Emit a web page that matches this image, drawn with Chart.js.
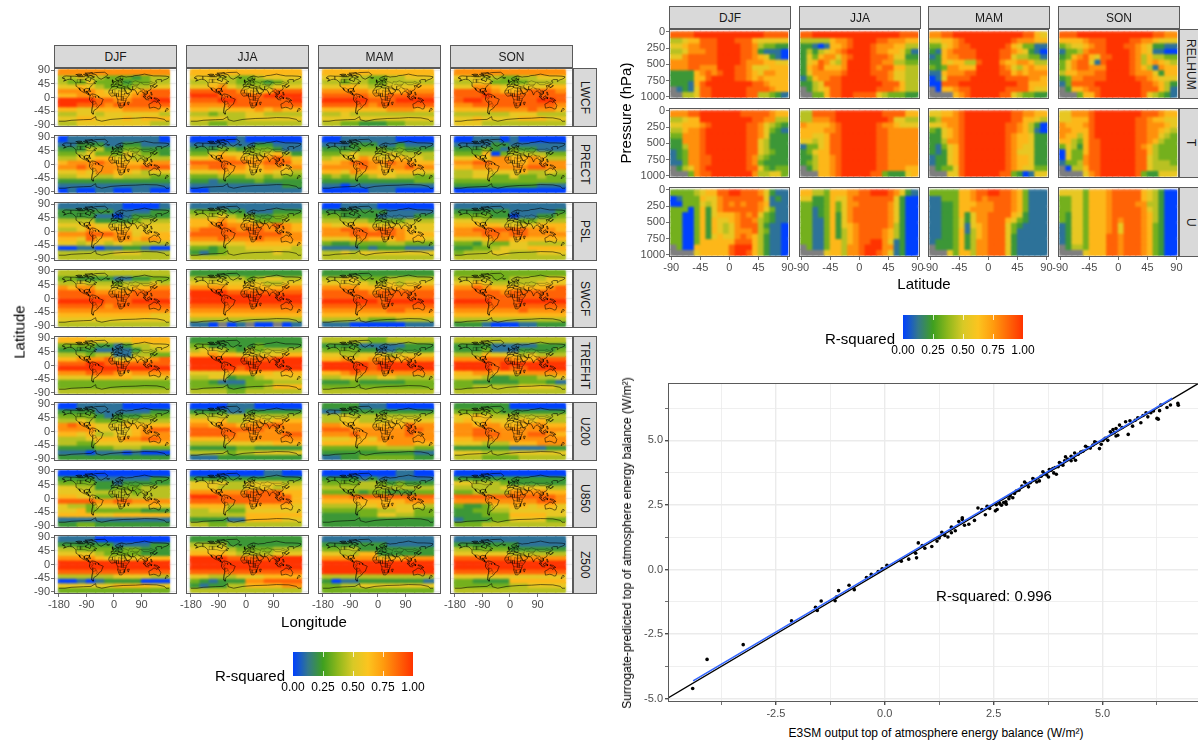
<!DOCTYPE html>
<html>
<head>
<meta charset="utf-8">
<script src="https://cdn.jsdelivr.net/npm/chart.js@4"></script>
<style>
html, body { margin: 0; padding: 0; background: #fff; }
body { position: relative; width: 1198px; height: 742px; overflow: hidden; font-family: "Liberation Sans", Arial, sans-serif; }
canvas { position: absolute; }
.strip { position: absolute; box-sizing: border-box; background: #d9d9d9; border: 1px solid #5a5a5a; color: #1a1a1a; font-size: 12px; display: flex; align-items: center; justify-content: center; }
.strip.side { writing-mode: vertical-rl; }
.lab { position: absolute; white-space: nowrap; color: #000; transform: translate(-50%, -50%); }
.bar { position: absolute; }
.bar i { position: absolute; height: 5px; width: 1px; background: rgba(255,255,255,.8); }
</style>
</head>
<body>
<script>
const seasons = ['DJF', 'JJA', 'MAM', 'SON'];
const mapVars = ['LWCF', 'PRECT', 'PSL', 'SWCF', 'TREFHT', 'U200', 'U850', 'Z500'];
const pressVars = ['RELHUM', 'T', 'U'];

// grid cells: each digit is R-squared in ninths, x is no data
const mapLons = [-165, -135, -105, -75, -45, -15, 15, 45, 75, 105, 135, 165];
const mapLatEdges = [90, 75, 60, 45, 30, 15, 0, -15, -30, -45, -60, -75, -90];
const pressLats = [-85.5, -76.5, -67.5, -58.5, -49.5, -40.5, -31.5, -22.5, -13.5, -4.5, 4.5, 13.5, 22.5, 31.5, 40.5, 49.5, 58.5, 67.5, 76.5, 85.5];
const pressEdges = [0, 83, 167, 250, 333, 417, 500, 583, 667, 750, 833, 917, 1000];

const LWCF_DJF = ['777777777777','445443332344','433533323344','556543334455','777765556788','667766667888','999988778899','998887888888','665566677776','445545555554','556655565666','445555555544'];
const LWCF_JJA = ['666666666666','555443345555','445543332344','556754444555','888887656888','999888889999','888998888889','777788888888','665566676766','443444554444','555544555555','443344444444'];
const LWCF_MAM = ['666666666666','554443344555','443443344444','556654455566','777776666777','888887788888','999998889999','888887888888','666666677766','445444444444','555555555555','443322233444'];
const LWCF_SON = ['777777777777','555443344555','445533334444','557765555566','888876678887','888988888888','899888888998','778888888887','666677778776','444444555444','556555566655','555444444444'];
const PRECT_DJF = ['011111111110','112221122111','222442233222','334533354332','445566554444','677787666677','778777777888','556577665455','445544544433','222222222222','111111111111','010011001100'];
const PRECT_JJA = ['000001000000','111111122111','222332333211','335655445642','556776667875','888888778886','778877667767','555666556554','333433443433','221222232222','111111111122','001111111111'];
const PRECT_MAM = ['001111110000','111222112111','222233323222','334544454444','455576556554','667887787766','777787677877','665766656655','343434554433','222222222233','110111111111','000001110000'];
const PRECT_SON = ['001110100000','111122111111','222321322111','333603444433','556577667644','778877667777','667777778877','445555564454','445533533433','333333333333','222222222111','000000000000'];
const PSL_DJF = ['111111100001','222222111122','222211012222','444422223444','555655555555','445766665555','777888775666','665866776776','554554554444','001101122100','444444555444','444444444444'];
const PSL_JJA = ['111111111111','333322111222','444543322333','666765533344','667877777876','788887887776','888888888877','777877787777','555555666666','332344555554','212344444544','444444444444'];
const PSL_MAM = ['001111000000','222222211111','332222111122','444443333444','655665555555','778887887655','777888887666','555676667665','322333344333','111121222111','445455555555','444444444444'];
const PSL_SON = ['111111111111','222222111112','333322011223','555444433444','666665555666','778888887776','777887887777','555677666666','332433554444','223345556666','344455444555','444444444444'];
const SWCF_DJF = ['444444444444','332222112233','445444344454','767755556677','888877778888','888888888888','999998889999','888887888888','777777777777','666666666655','555555555555','444444444444'];
const SWCF_JJA = ['222222222222','444444345544','555555554455','777766666677','999988888888','999999999999','999999999999','888888888888','777777777777','666666666666','444444444444','110x01x00x01'];
const SWCF_MAM = ['222222222222','445533344444','555554454555','777766666677','888887888888','888888888888','999999899999','888888888888','777777788777','666666666666','444443334444','111000000111'];
const SWCF_SON = ['333333333333','444433444455','556544444555','778766666678','888887888888','888888888888','999988899999','888888888888','777777787777','666666666666','444444444444','222100011222'];
const TREFHT_DJF = ['666555556666','333322124455','222211112445','444344114433','667778556678','888998888888','999999999999','777888767777','555566665555','333333333333','333333333333','444444444444'];
const TREFHT_JJA = ['222222222222','332222232222','455432434444','667665555566','999999888999','999999999999','999998999999','555566666566','445523345555','332111333444','333322334666','444433444444'];
const TREFHT_MAM = ['444443344444','222211111222','333322112222','554455545555','667667776777','999998999999','999998999999','667877777777','445544554444','222322222333','333333333333','444444444444'];
const TREFHT_SON = ['444444444444','222211111222','222311122223','444655545444','777888766888','999989999999','999989889999','667766677777','555422333445','332222233321','334444455554','444444444444'];
const U200_DJF = ['001111100000','222211111122','333321222333','445433344444','787655566666','777755556788','665644556777','444566677887','443355555566','222233444333','111011101000','222222222222'];
const U200_JJA = ['000011100000','222211222222','444444444444','665644565666','776776778877','888888887777','888887777788','666677777777','444455555666','222223322222','444434455555','111222222222'];
const U200_MAM = ['222211100000','112222222222','445444444444','445544455555','776666666877','888777777887','777877777877','555665777777','666666677766','333333444433','222222222211','112233333322'];
const U200_SON = ['222222000000','333332222222','556544444444','565655565644','776776667766','778877777777','778887778876','667777777777','555444666777','222222111122','555444555555','444333344444'];
const U850_DJF = ['000000000000','222211111122','333322122222','554422333444','555444443444','665533444444','888877887777','544355555565','556333333222','666655666666','111111111111','223322222222'];
const U850_JJA = ['000000001100','222222222222','555544555544','555444555455','777777888866','999888888886','888888888886','666644666665','445533555555','444444666666','222211666655','443344444444'];
const U850_MAM = ['000000001100','222212111111','333344323222','444444444444','333323322233','777888888888','666666666777','444455665554','333333445533','222233554433','222222222222','222222222222'];
const U850_SON = ['000000000000','222222222222','554443222222','444445555544','334444777766','888888888887','777777777887','322355665665','223344555555','222333666655','122233555533','333444444444'];
const Z500_DJF = ['111100000000','222222111122','443333233222','555543333222','777765555666','999999999999','999999999999','888888888888','444444555544','001012222000','555555666655','333333333333'];
const Z500_JJA = ['222222222222','444422222222','555543333444','666654444555','999988888999','999999999999','999999999999','888888888888','554445556666','321222778888','212244666677','444444444444'];
const Z500_MAM = ['111111111111','222222211111','334422222222','554466222222','777777666777','999999999999','999999999999','999999999999','444444444444','201122222221','334455555555','333333333333'];
const Z500_SON = ['111111111111','222222211111','443333222222','555555444444','888888777777','999999999999','999999999999','888888888888','555555555555','332222666666','333333445555','444444444444'];

const RELHUM_DJF = ['88889999999999998888','44566888999888655555','55677888999988743322','44577788999988721110','55788888999988765210','77788888999987776655','77788777999887555666','22226787899887657766','22226689999887676666','22216899999999887666','x1215889999998888766','xx445889999998844321'];
const RELHUM_JJA = ['88999999999999999888','44444677899998877766','22101667899987776644','24245678999987766531','25367757899988875522','25687547999988774433','26786667999987886644','25777778999988875544','13677889999998875544','22458889999999888644','x2456889999998887644','xx336889988885433322'];
const RELHUM_MAM = ['77889999999999998865','55667899999999877766','33567889999998653311','21678888999988765210','12677888999988544331','22656644899976677644','32377666999987546766','11677788999988676777','01588889999998888776','00888999999999988666','x0667889999998888655','xxxx6789999988543322'];
const RELHUM_SON = ['88899999999999998877','66667888999988776555','34556788999887652211','13347888999987651100','23678658899987464433','35788518999987467654','35788777999987641766','46677788999987775266','23778888999998876555','13888899999999887642','x2667889999999888641','xxx36689999999854321'];
const T_DJF = ['77788999999988888766','44566999999999887744','55666789999998875432','44677899999998875321','33777899999998875222','22777899999998854222','22477899999998854222','12377899999998854322','12377889999998743222','11377889999998732222','x2457899999998853233','xxx37889999999744553'];
const T_JJA = ['44888899999999888866','44777899999999985544','76666789999998776555','66667789999998877777','66556889999998877777','55456889999998877777','13356889999998877777','23566889999998877777','22466789999998877777','23466789999998877777','x2466789999998877766','xxx66789999988322256'];
const T_MAM = ['55667899999999887766','34777899999999886654','55677899999998876420','32567899999998876410','22567899999998766522','22477899999998766522','21356899999998765522','21256899999998755522','12256899999998766522','12256899999998766522','x2335899999998765533','xxx55899999988320155'];
const T_SON = ['55777899999999888766','55666899999998876655','76667899999998877765','77666899999998877654','76646899999998877543','66436889999998876433','35426889999998764333','05336889999998864333','05337889999998854333','13347889999998854443','x0446889999998854444','xxxx5789999998322555'];
const U_DJF = ['33334566889988875211','01333655788888885121','00333545787878876111','33303625788888875311','33003625666787853211','33003626556788743211','33003626545788842110','33003626545777843110','33003625655787642110','33003666666888642110','x3006666668999642110','xxxx5666668998642110'];
const U_JJA = ['66443666778899987521','55223655788888885200','33223635778888875200','33123635788888875200','33123625788888875200','33113625788888875200','33113625678888874200','33113624678888764200','33113624678888764200','33113664678899751200','x3113664778999771200','xxxx5664778998751200'];
const U_MAM = ['33333667889988763111','11333667878888763111','11223666777888763111','11223667777888763111','11223625778888652111','11223525778886532111','11223515678885321111','11223614678885311111','11223624678885211111','12223624778885211111','x2223624778885211111','xxx53664778885211111'];
const U_SON = ['55553666788888654200','33553666788888654200','33553666788887744200','33553666788888754200','32553666788888764200','32553666787888764200','12553666785888763200','12553666785888763200','12553666887888763200','12553666887888763200','x2443666887888763200','xxxx5666887888763200'];

const mapGrids = {
    LWCF: [LWCF_DJF, LWCF_JJA, LWCF_MAM, LWCF_SON], PRECT: [PRECT_DJF, PRECT_JJA, PRECT_MAM, PRECT_SON],
    PSL: [PSL_DJF, PSL_JJA, PSL_MAM, PSL_SON], SWCF: [SWCF_DJF, SWCF_JJA, SWCF_MAM, SWCF_SON],
    TREFHT: [TREFHT_DJF, TREFHT_JJA, TREFHT_MAM, TREFHT_SON], U200: [U200_DJF, U200_JJA, U200_MAM, U200_SON],
    U850: [U850_DJF, U850_JJA, U850_MAM, U850_SON], Z500: [Z500_DJF, Z500_JJA, Z500_MAM, Z500_SON]
};
const pressGrids = {
    RELHUM: [RELHUM_DJF, RELHUM_JJA, RELHUM_MAM, RELHUM_SON], T: [T_DJF, T_JJA, T_MAM, T_SON], U: [U_DJF, U_JJA, U_MAM, U_SON]
};

// rough outlines, lon,lat pairs
const coastlines = [
    [-168,66,-162,70,-156,71,-140,70,-128,70,-115,68,-95,68,-94,72,-85,69,-82,67,-94,61,-92,57,-82,55,-80,51,-78,55,-77,62,-70,61,-65,59,-60,54,-56,52,-66,50,-60,46,-67,45,-70,42,-74,40,-76,35,-81,31,-80,25,-83,29,-90,30,-97,27,-97,20,-91,18,-90,21,-87,21,-88,16,-83,15,-83,10,-77,8,-80,8,-85,10,-92,15,-97,16,-105,20,-110,24,-113,31,-110,23,-117,32,-122,37,-124,43,-124,48,-130,54,-135,58,-145,60,-152,59,-160,55,-165,54,-158,58,-165,62,-168,66],
    [-77,8,-72,12,-62,10,-52,5,-50,0,-44,-2,-35,-6,-39,-15,-41,-22,-48,-26,-53,-34,-58,-38,-65,-42,-68,-50,-68,-55,-74,-50,-73,-40,-71,-30,-70,-18,-76,-14,-81,-5,-80,0,-77,8],
    [-6,35,10,37,11,33,20,31,25,32,32,31,35,24,37,18,43,12,51,12,47,4,40,-3,39,-10,35,-20,33,-26,26,-34,18,-34,12,-17,13,-8,9,0,9,4,4,6,-4,5,-8,4,-13,9,-17,15,-16,22,-10,30,-6,35],
    [-9,37,-9,43,-1,44,-4,48,4,52,8,54,9,57,12,54,20,55,24,59,30,60,22,60,21,65,18,60,16,56,12,56,5,60,5,62,14,68,25,71,40,67,44,68,60,69,68,72,80,73,100,77,113,74,130,71,150,71,170,70,180,68,178,64,170,60,163,58,155,52,155,59,142,59,135,54,141,50,135,44,127,40,129,35,126,35,125,39,118,39,122,31,119,25,110,21,108,16,109,12,105,9,100,13,103,2,98,8,98,16,94,16,90,22,85,20,80,15,77,8,73,18,72,21,67,25,57,26,52,28,48,30,56,25,59,22,52,16,43,12,39,21,35,28,34,32,36,36,28,37,26,40,23,38,20,40,13,45,18,40,15,38,9,44,3,43,0,38,-5,36,-9,37],
    [114,-22,122,-18,130,-12,136,-12,140,-17,143,-11,153,-26,150,-37,144,-38,138,-34,130,-32,116,-35,114,-22],
    [-73,78,-60,82,-30,83,-20,75,-25,69,-42,60,-52,65,-58,75,-73,78],
    [-180,-78,-160,-78,-140,-75,-100,-73,-75,-72,-60,-63,-58,-73,-40,-78,-10,-72,30,-69,70,-68,100,-66,140,-67,165,-72,170,-78,180,-78],
    [-5,50,1,51,-2,56,-5,58,-5,50], [130,32,136,34,141,37,141,41,136,36,130,32], [44,-16,50,-15,47,-25,44,-20,44,-16],
    [95,5,104,-2,105,-6,100,-2,95,5], [105,-7,115,-8], [109,1,117,6,118,1,115,-4,110,-2,109,1], [131,-1,141,-3,150,-10,141,-9,134,-4,131,-1],
    [120,18,122,18,125,8,122,8,120,18], [120,1,124,0,122,-5,120,1], [173,-35,178,-38,170,-46,167,-45,173,-35], [-24,65,-14,65,-18,63,-24,65],
    [-120,72,-105,73,-100,70,-115,69,-120,72], [-90,74,-75,72,-65,66,-75,64,-90,74], [-95,80,-70,82,-85,77,-95,80], [-84,22,-75,20,-78,22,-84,22],
    [-125,75,-115,77,-105,76,-110,74,-125,75], [-100,76,-90,76,-85,74,-95,73,-100,76], [-80,74,-70,71,-62,67], [-170,64,-160,63]
];
const borders = [
    [-123,49,-95,49,-83,45,-75,45,-67,47], [-117,32,-106,31,-97,26], [-141,70,-141,60],
    [27,56,32,52,40,50,48,46,50,52,60,51,70,55,85,50,98,50,115,50,120,53,130,48,135,48,131,43],
    [74,38,80,42,85,50], [74,38,78,32,88,28,97,28,100,22,108,22], [88,49,98,42,112,42,120,47], [53,42,60,44,68,41,80,42],
    [44,38,48,38], [44,38,46,30], [61,37,61,25], [61,37,74,38], [62,25,70,28,74,34], [35,29,46,29,48,30], [46,29,55,22,59,22],
    [25,32,25,20,37,22], [25,20,24,10,35,10], [-17,21,-5,25,10,30], [-5,25,-5,15,15,13,15,23,25,20], [15,13,15,3,9,3], [15,3,30,4,35,5,42,4],
    [24,10,24,-10], [12,-6,30,-10,40,-10], [12,-17,25,-18,33,-15], [20,-18,20,-28,32,-26], [-12,12,3,12,3,6], [42,12,35,15,35,10], [8,13,8,4],
    [-72,11,-68,2,-70,-4,-74,-8,-70,-11,-69,-18], [-68,2,-60,5,-60,-1], [-70,-11,-60,-14,-58,-20,-54,-25,-58,-30,-53,-34],
    [-69,-18,-68,-23,-70,-35,-72,-50], [-68,-23,-58,-20], [-80,-3,-75,0,-70,-4],
    [2,43,8,49,6,51,4,52], [8,49,14,50,24,50,30,46,28,42,22,41,14,46,8,46], [14,54,14,50], [24,54,24,50],
    [12,56,14,65,20,69,28,70], [24,60,30,62,29,69], [-2,43,-9,42], [4,43,8,46], [20,54,28,56,27,60], [22,48,30,52], [22,41,28,48],
    [36,36,44,38,48,42], [36,33,46,33,48,30], [100,22,102,14,105,9], [108,22,102,18], [92,22,97,28], [80,30,88,27], [120,47,130,43], [126,38,130,42],
    [-13,15,-5,15], [3,12,3,25], [9,3,9,13], [30,4,30,-10], [40,-3,30,-3], [33,-15,35,-26], [18,-28,26,-28],
    [-105,49,-105,60], [-120,49,-120,60], [-110,60,-110,49], [-120,60,-95,60], [-90,16,-92,18], [-88,14,-84,14]
];

// scatter panel
const e3smX = [-4.41,-4.08,-3.25,-2.14,-1.59,-1.55,-1.46,-1.14,-1.11,-1.06,-.82,-.70,-.42,-.31,-.15,-.06,.05,.38,.55,.71,.73,.77,.86,.92,1.08,1.20,1.25,1.31,1.38,1.45,1.53,1.53,1.62,1.70,1.78,1.78,1.83,1.93,2.06,2.14,2.23,2.31,2.35,2.41,2.54,2.58,2.56,2.64,2.68,2.73,2.78,2.79,2.85,2.88,2.94,2.98,3.02,3.08,3.15,3.21,3.25,3.30,3.34,3.40,3.44,3.49,3.55,3.59,3.63,3.67,3.72,3.76,3.78,3.82,3.86,3.88,3.94,3.91,3.98,4.01,4.05,4.09,4.15,4.13,4.20,4.28,4.28,4.33,4.38,4.36,4.44,4.50,4.55,4.61,4.66,4.72,4.78,4.82,4.85,4.93,4.97,5.01,5.06,5.12,5.18,5.21,5.24,5.31,5.35,5.39,5.31,5.27,5.45,5.53,5.59,5.63,5.69,5.75,5.81,5.88,5.93,6.0,6.04,6.11,6.17,6.25,6.28,6.34,6.31,6.48,6.56,6.73,6.74];
const surrogateY = [-4.61,-3.48,-2.91,-1.99,-1.46,-1.59,-1.22,-1.21,-1.07,-.82,-.61,-.78,-.31,-.19,-.08,.03,.16,.32,.40,.63,.45,1.03,.93,.82,.89,1.10,1.22,1.44,1.32,1.26,1.64,1.42,1.50,1.86,2.0,1.94,1.71,1.75,1.90,2.38,2.32,2.12,2.45,2.36,2.27,2.32,2.51,2.55,2.49,2.59,2.62,2.53,2.74,2.85,2.78,2.94,3.04,3.07,3.23,3.39,3.32,3.20,3.36,3.52,3.48,3.39,3.43,3.61,3.78,3.71,3.66,3.58,3.87,3.84,3.91,3.74,3.69,3.95,3.98,4.14,4.10,4.04,4.36,4.21,4.28,4.38,4.21,4.33,4.23,4.51,4.46,4.55,4.58,4.77,4.72,4.70,4.82,4.94,4.91,4.68,4.85,5.0,5.08,5.0,5.33,5.26,5.42,5.17,5.2,5.59,5.46,5.30,5.50,5.72,5.23,5.76,5.55,5.78,5.87,5.68,5.96,6.07,5.91,6.07,6.14,5.85,5.82,6.37,6.15,6.27,6.37,6.43,6.36];
const oneToOneX = [-5.1, 7.5];
const oneToOneY = [-5.1, 7.5];
const fitX = [-4.4, 6.6];
const fitY = [-4.31, 6.63];
const xTickVals = [-3.75, -2.5, -1.25, 0, 1.25, 2.5, 3.75, 5, 6.25];
const yTickVals = [-5, -3.75, -2.5, -1.25, 0, 1.25, 2.5, 3.75, 5, 6.25];

const legendVals = [0, 0.125, 0.25, 0.375, 0.5, 0.625, 0.75, 1];
const legendCols = ['#0040ff', '#33788c', '#3fa01f', '#8fb81c', '#d8c926', '#fcc41f', '#ff9c0e', '#ff3300'];
const legendLabels = ['0.00', '0.25', '0.50', '0.75', '1.00'];

Chart.defaults.font.family = '"Liberation Sans", Arial, sans-serif';
Chart.defaults.animation = false;

function rgb(hex) { return [1, 3, 5].map(i => parseInt(hex.substr(i, 2), 16)); }

function rampColor(v) {
    let i = 0;
    while (i < legendVals.length - 2 && v > legendVals[i + 1]) i++;
    const t = (v - legendVals[i]) / (legendVals[i + 1] - legendVals[i]);
    const a = rgb(legendCols[i]), b = rgb(legendCols[i + 1]);
    return 'rgb(' + a.map((c, k) => Math.round(c + (b[k] - c) * t)).join(',') + ')';
}

function cellColor(ch) { return ch === 'x' ? '#7f7f7f' : rampColor(Number(ch) / 9); }

function outline(lines) {
    const pts = [];
    lines.forEach(function (line) {
        for (let i = 0; i < line.length; i += 2) pts.push({ x: line[i], y: line[i + 1] });
        pts.push({ x: line[0], y: NaN });
    });
    return pts;
}

function label(text, x, y, size, rotate) {
    const d = document.createElement('div');
    d.className = 'lab';
    d.textContent = text;
    d.style.left = x + 'px';
    d.style.top = y + 'px';
    d.style.fontSize = size + 'px';
    if (rotate) d.style.transform = 'translate(-50%, -50%) rotate(-90deg)';
    document.body.appendChild(d);
}

function strip(text, x, y, w, h, side) {
    const d = document.createElement('div');
    d.className = side ? 'strip side' : 'strip';
    d.textContent = text;
    d.style.cssText = `left:${x}px;top:${y}px;width:${w}px;height:${h}px`;
    document.body.appendChild(d);
}

function colorbar(x, y) {
    const d = document.createElement('div');
    d.className = 'bar';
    const stops = legendVals.map((v, i) => legendCols[i] + ' ' + (v * 100) + '%').join(',');
    d.style.cssText = `left:${x}px;top:${y}px;width:120px;height:24px;background:linear-gradient(to right,${stops})`;
    [30, 60, 90].forEach(function (p) {
        ['top', 'bottom'].forEach(function (side) {
            const t = document.createElement('i');
            t.style.left = p + 'px';
            t.style[side] = '0';
            d.appendChild(t);
        });
    });
    document.body.appendChild(d);
    legendLabels.forEach((t, i) => label(t, x + i * 30, y + 35, 12));
    label('R-squared', x - 43, y + 23, 15);
}

// frame on top of everything, and soften the cells the way the raster looks
const framePlugin = {
    id: 'frame',
    afterDatasetDraw(chart, args) {
        if (chart.$lastCell !== args.index) return;
        const a = chart.chartArea, ctx = chart.ctx;
        ctx.save();
        ctx.beginPath();
        ctx.rect(a.left, a.top, a.width, a.height);
        ctx.clip();
        ctx.filter = 'blur(1.1px)';
        ctx.drawImage(chart.canvas, 0, 0);
        ctx.restore();
    },
    afterDraw(chart) {
        const a = chart.chartArea, ctx = chart.ctx;
        ctx.save();
        ctx.strokeStyle = '#5a5a5a';
        ctx.lineWidth = 1;
        ctx.strokeRect(a.left + .5, a.top + .5, a.width - 1, a.height - 1);
        ctx.restore();
    }
};

function axis(min, max, ticks, showLabels, size, isX, reverse) {
    return {
        type: 'linear', min: min, max: max, reverse: !!reverse, offset: false,
        afterBuildTicks(s) { s.ticks = ticks.map(v => ({ value: v })); },
        afterFit(s) {
            if (isX) s.height = showLabels ? size : 0; else s.width = showLabels ? size : 0;
            s.paddingLeft = s.paddingRight = s.paddingTop = s.paddingBottom = 0;
        },
        border: { display: false },
        grid: { offset: false, color: '#ebebeb', lineWidth: 0.8, drawTicks: showLabels, tickLength: 3, tickColor: '#4d4d4d' },
        ticks: {
            display: showLabels, color: '#4d4d4d', font: { size: 11 }, padding: 1,
            autoSkip: false, maxRotation: 0, minRotation: 0,
            callback: v => String(v)
        }
    };
}

function heatPanel(box, grid, centers, edges, xAxis, yAxis, lines) {
    const cv = document.createElement('canvas');
    const gl = 34, gr = 14, gb = 17, gt = 6;
    cv.width = box.w + gl + gr;
    cv.height = box.h + gb + gt;
    cv.style.left = (box.x - gl) + 'px';
    cv.style.top = (box.y - gt) + 'px';
    document.body.appendChild(cv);

    const sets = [];
    lines.forEach(function (l) {
        sets.push({ type: 'scatter', data: l.pts, showLine: true, spanGaps: false, borderColor: l.col, borderWidth: l.w, pointRadius: 0, fill: false });
    });
    grid.forEach(function (row, r) {
        const cells = row.split('');
        sets.push({
            type: 'bar',
            data: cells.map((c, i) => ({ x: centers[i], y: [edges[r], edges[r + 1]] })),
            backgroundColor: cells.map(cellColor),
            borderWidth: 0, inflateAmount: 0.6, grouped: false, barPercentage: 1, categoryPercentage: 1
        });
    });
    const chart = new Chart(cv, {
        data: { datasets: sets },
        options: {
            responsive: false, events: [],
            layout: { padding: { left: box.yLabels ? 0 : gl, right: gr, top: gt, bottom: box.xLabels ? 0 : gb } },
            plugins: { legend: { display: false }, tooltip: { enabled: false } },
            scales: { x: xAxis, y: yAxis }
        },
        plugins: [{
            id: 'cellmark',
            beforeDraw(c) { c.$lastCell = lines.length; }
        }, framePlugin]
    });
    return chart;
}

// --- left block: maps
const mapColX = [54, 186, 318, 450];
const mapRowY = [68, 135, 202, 269, 336, 402, 469, 535];
const mapW = 123, mapH = 59;
const coastPts = outline(coastlines), borderPts = outline(borders);

mapVars.forEach(function (v, r) {
    mapColX.forEach(function (x, c) {
        const yLabels = c === 0, xLabels = r === mapVars.length - 1;
        heatPanel({ x: x, y: mapRowY[r], w: mapW, h: mapH, yLabels: yLabels, xLabels: xLabels },
            mapGrids[v][c], mapLons, mapLatEdges,
            axis(-196, 206, [-180, -90, 0, 90], xLabels, 17, true),
            axis(-97, 97, [-90, -45, 0, 45, 90], yLabels, 34, false),
            [{ pts: coastPts, col: '#000', w: 0.55 }, { pts: borderPts, col: 'rgba(0,0,0,.7)', w: 0.4 }]);
    });
    strip(v, 573, mapRowY[r], 24, mapH, true);
});
mapColX.forEach((x, c) => strip(seasons[c], x, 45, mapW, 23));
label('Latitude', 19, 332, 15, true);
label('Longitude', 314, 621, 15);
colorbar(293, 652);

// --- right block: pressure sections
const pressColX = [669, 799, 928, 1058];
const pressRowY = [29, 108, 187];
const pressW = 121, pressH = 70;

pressVars.forEach(function (v, r) {
    pressColX.forEach(function (x, c) {
        const yLabels = c === 0, xLabels = r === pressVars.length - 1;
        heatPanel({ x: x, y: pressRowY[r], w: pressW, h: pressH, yLabels: yLabels, xLabels: xLabels },
            pressGrids[v][c], pressLats, pressEdges,
            axis(-93.5, 94, [-90, -45, 0, 45, 90], xLabels, 17, true),
            axis(-46, 1035, [0, 250, 500, 750, 1000], yLabels, 34, false, true),
            []);
    });
    strip(v, 1179, pressRowY[r], 24, pressH, true);
});
pressColX.forEach((x, c) => strip(seasons[c], x, 6, pressW + 1, 23));
label('Pressure (hPa)', 625, 113, 15, true);
label('Latitude', 924, 283, 15);
colorbar(903, 315);

// --- scatter
const sc = document.createElement('canvas');
sc.width = 578;
sc.height = 345;
sc.style.left = '630px';
sc.style.top = '378px';
document.body.appendChild(sc);

function scAxis(min, max, ticks, size, isX) {
    return {
        type: 'linear', min: min, max: max,
        afterBuildTicks(s) { s.ticks = ticks.map(v => ({ value: v })); },
        afterFit(s) {
            if (isX) s.height = size; else s.width = size;
            s.paddingLeft = s.paddingRight = s.paddingTop = s.paddingBottom = 0;
        },
        border: { display: false },
        grid: {
            color: '#ebebeb', tickLength: 3, tickColor: '#4d4d4d',
            lineWidth: c => (c.tick && c.tick.value % 2.5 === 0 ? 1.4 : 0.8)
        },
        ticks: {
            color: '#4d4d4d', font: { size: 11 }, padding: 2, autoSkip: false, maxRotation: 0, minRotation: 0,
            callback: v => (v % 2.5 === 0 ? v.toFixed(1) : '')
        }
    };
}

new Chart(sc, {
    type: 'scatter',
    data: {
        datasets: [
            { data: fitX.map((x, i) => ({ x: x, y: fitY[i] })), showLine: true, borderColor: '#3366ff', borderWidth: 1.6, pointRadius: 0 },
            { data: oneToOneX.map((x, i) => ({ x: x, y: oneToOneY[i] })), showLine: true, borderColor: '#000', borderWidth: 1.4, pointRadius: 0 },
            { data: e3smX.map((x, i) => ({ x: x, y: surrogateY[i] })), backgroundColor: '#000', borderWidth: 0, pointRadius: 1.8 }
        ]
    },
    options: {
        responsive: false, events: [],
        layout: { padding: { top: 5 } },
        plugins: { legend: { display: false }, tooltip: { enabled: false } },
        scales: {
            x: scAxis(-4.977, 7.33, xTickVals, 21, true),
            y: scAxis(-5.13, 7.22, yTickVals, 38, false)
        }
    },
    plugins: [framePlugin]
});
label('Surrogate-predicted top of atmosphere energy balance (W/m\u00b2)', 627, 543, 12, true);
label('E3SM output top of atmosphere energy balance (W/m\u00b2)', 936, 733, 12);
label('R-squared: 0.996', 994, 595, 15);
</script>
</body>
</html>
